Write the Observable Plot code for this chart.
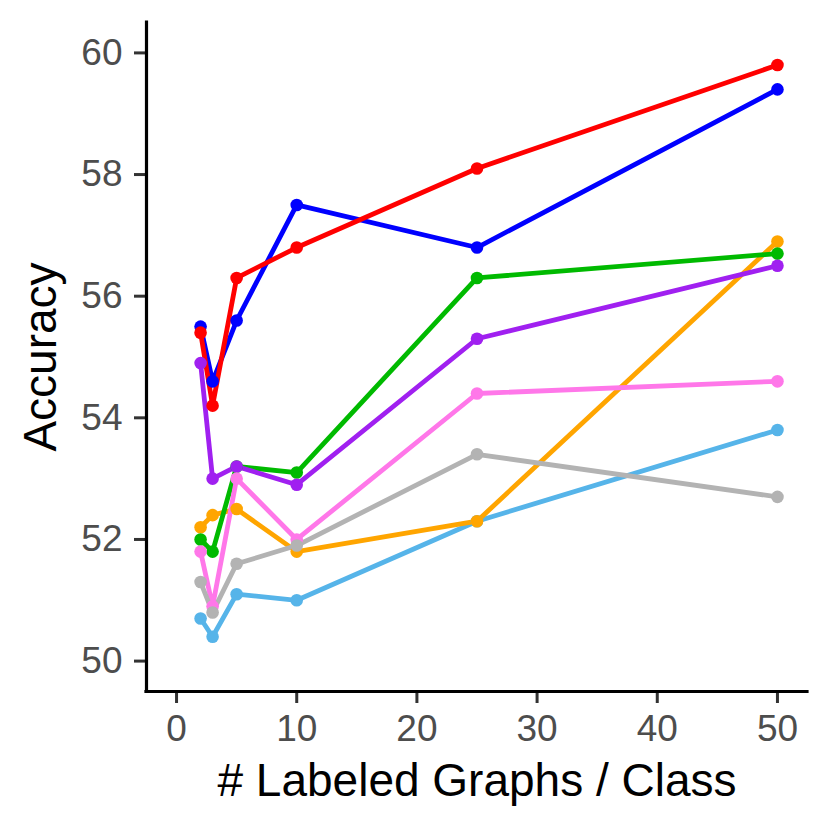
<!DOCTYPE html>
<html>
<head>
<meta charset="utf-8">
<script src="https://cdn.jsdelivr.net/npm/d3@7"></script>
<script src="https://cdn.jsdelivr.net/npm/@observablehq/plot@0.6"></script>
<style>
  html, body { margin: 0; padding: 0; background: #fff; }
  #chart svg { display: block; }
</style>
</head>
<body>
<div id="chart"></div>
<script>
const xValues = [2, 3, 5, 10, 25, 50];
const seriesNames = ["S1", "S2", "S3", "S4", "S5", "S6", "S7", "S8"];
const seriesColors = ["#56B4E9", "#FFA500", "#0000FF", "#FF0000", "#00BA00", "#A020F0", "#FF77E9", "#B3B3B3"];
const s1Values = [50.7, 50.4, 51.1, 51.0, 52.3, 53.8];
const s2Values = [52.2, 52.4, 52.5, 51.8, 52.3, 56.9];
const s3Values = [55.5, 54.6, 55.6, 57.5, 56.8, 59.4];
const s4Values = [55.4, 54.2, 56.3, 56.8, 58.1, 59.8];
const s5Values = [52.0, 51.8, 53.2, 53.1, 56.3, 56.7];
const s6Values = [54.9, 53.0, 53.2, 52.9, 55.3, 56.5];
const s7Values = [51.8, 50.9, 53.0, 52.0, 54.4, 54.6];
const s8Values = [51.3, 50.8, 51.6, 51.9, 53.4, 52.7];
const xTicks = [0, 10, 20, 30, 40, 50];
const yTicks = [50, 52, 54, 56, 58, 60];
const xDomain = [-2.5, 52.5];
const yDomain = [49.5, 60.5];

const valuesBySeries = [s1Values, s2Values, s3Values, s4Values, s5Values, s6Values, s7Values, s8Values];
const data = [];
seriesNames.forEach((s, i) => {
  xValues.forEach((x, j) => data.push({series: s, x, y: valuesBySeries[i][j]}));
});

const font = "'Liberation Sans', Arial, sans-serif";

const chart = Plot.plot({
  width: 830,
  height: 830,
  marginLeft: 146,
  marginRight: 23,
  marginTop: 22,
  marginBottom: 139,
  style: {fontFamily: font, background: "#fff"},
  x: {domain: xDomain},
  y: {domain: yDomain},
  color: {domain: seriesNames, range: seriesColors},
  marks: [
    Plot.axisX({
      ticks: xTicks, tickSize: 12, tickPadding: 11, fontSize: 37,
      stroke: "#333333", strokeWidth: 3, fill: "#4D4D4D",
      label: null
    }),
    Plot.axisY({
      ticks: yTicks, tickSize: 12, tickPadding: 12, fontSize: 37,
      stroke: "#333333", strokeWidth: 3, fill: "#4D4D4D",
      label: null
    }),
    Plot.axisX({
      ticks: [], tickSize: 0, label: "# Labeled Graphs / Class", labelAnchor: "center",
      labelArrow: "none", labelOffset: 104, fontSize: 46, fill: "#000"
    }),
    Plot.axisY({
      ticks: [], tickSize: 0, label: "Accuracy", labelAnchor: "center",
      labelArrow: "none", labelOffset: 123, fontSize: 46, fill: "#000"
    }),
    Plot.ruleX([xDomain[0]], {stroke: "#000", strokeWidth: 3.2, strokeLinecap: "square"}),
    Plot.ruleY([yDomain[0]], {stroke: "#000", strokeWidth: 3.2, strokeLinecap: "square"}),
    Plot.line(data, {x: "x", y: "y", z: "series", stroke: "series", strokeWidth: 4.8, strokeLinejoin: "round"}),
    Plot.dot(data, {x: "x", y: "y", fill: "series", r: 6.3})
  ]
});
document.getElementById("chart").appendChild(chart);
</script>
</body>
</html>
